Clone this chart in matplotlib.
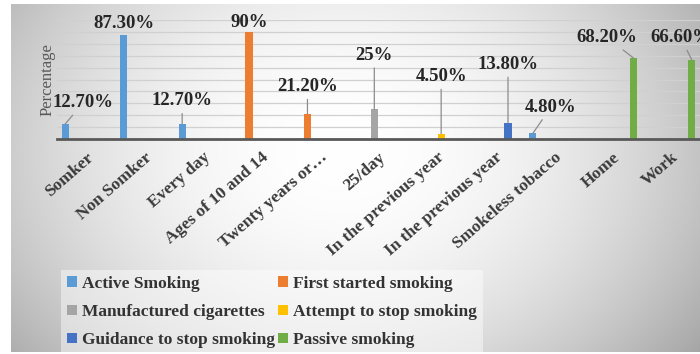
import numpy as np
import matplotlib
matplotlib.use("Agg")
import matplotlib.pyplot as plt
from matplotlib.transforms import ScaledTranslation

categories = ["Somker", "Non Somker", "Every day", "Ages of 10 and 14",
              "Twenty years or\u2026", "25/day", "In the previous year",
              "In the previous year", "Smokeless tobacco", "Home", "Work"]

series_names = ["Active Smoking", "First started smoking", "Manufactured cigarettes",
                "Attempt to stop smoking", "Guidance to stop smoking", "Passive smoking"]
series_colors = ["#5B9BD5", "#ED7D31", "#A5A5A5", "#FFC000", "#4472C4", "#70AD47"]

N = None
active_smoking   = [12.7, 87.3, 12.7, N, N, N, N, N, 4.8, N, N]
first_started    = [N, N, N, 90.0, 21.2, N, N, N, N, N, N]
manufactured     = [N, N, N, N, N, 25.0, N, N, N, N, N]
attempt_stop     = [N, N, N, N, N, N, 4.5, N, N, N, N]
guidance_stop    = [N, N, N, N, N, N, N, 13.8, N, N, N]
passive_smoking  = [N, N, N, N, N, N, N, N, N, 68.2, 66.6]
series_values = [active_smoking, first_started, manufactured,
                 attempt_stop, guidance_stop, passive_smoking]

value_labels = {12.7: "12.70%", 87.3: "87.30%", 4.8: "4.80%", 90.0: "90%",
                21.2: "21.20%", 25.0: "25%", 4.5: "4.50%", 13.8: "13.80%",
                68.2: "68.20%", 66.6: "66.60%"}

# label offsets (pixels) per category: (dx, dy, leader)
label_offsets = [(18, 21, True), (0, 12, False), (0, 23, True), (0, 9, False),
                 (0, 27, True), (0, 54, True), (0, 57, True), (0, 58, True),
                 (18, 26, True), (-26, 20, True), (-11, 22, True)]

W, H = 700, 354
fig = plt.figure(figsize=(W / 100, H / 100), dpi=100)
fig.patch.set_facecolor("white")

# background gradient panel
bg = fig.add_axes([11 / W, 2 / H, 689 / W, 348 / H], zorder=-10)
yy, xx = np.mgrid[0:1:300j, 0:1:600j]
d = np.sqrt(((xx - 0.48) / 0.52) ** 2 + ((yy - 0.42) / 0.8) ** 2)
g = 1 - 0.23 * np.clip(d, 0, 1.3) ** 2
img = np.dstack([g, g, g])
bg.imshow(np.clip(img, 0, 1), aspect="auto", extent=[0, 1, 0, 1], origin="upper")
bg.axis("off")

ax = fig.add_axes([57 / W, (H - 139) / H, 643 / W, 119 / H])
ax.set_facecolor("none")
ax.set_xlim(-0.5, 10.5)
ax.set_ylim(0, 100)

slot = 0.1436
bw = 0.12
handles = []
for s, (vals, col) in enumerate(zip(series_values, series_colors)):
    xs = [i + (s - 2.5) * slot for i, v in enumerate(vals) if v is not None]
    hs = [v for v in vals if v is not None]
    b = ax.bar(xs, hs, width=bw, color=col, zorder=3, label=series_names[s])
    handles.append(b)

# data labels
for s, vals in enumerate(series_values):
    for i, v in enumerate(vals):
        if v is None:
            continue
        dx, dy, leader = label_offsets[i]
        x = i + (s - 2.5) * slot
        kw = {}
        if leader:
            kw["arrowprops"] = dict(arrowstyle="-", color="#8c8c8c", lw=0.9,
                                    shrinkA=1, shrinkB=0)
        ax.annotate(value_labels[v], xy=(x, v), xytext=(dx, dy),
                    textcoords="offset pixels", ha="center", va="center",
                    fontsize=13.5, fontweight="bold", family="Liberation Serif",
                    color="#262626", annotation_clip=False, zorder=5, **kw)

ax.set_yticks(np.arange(10, 101, 10))
ax.yaxis.grid(True, color="#d0d0d0", lw=0.9, zorder=0)
ax.tick_params(axis="y", length=0, labelleft=False)
for sp in ["top", "right", "left"]:
    ax.spines[sp].set_visible(False)
ax.spines["bottom"].set_color("#595959")
ax.spines["bottom"].set_linewidth(2)
ax.spines["bottom"].set_zorder(4)

ax.set_xticks(range(len(categories)))
ax.set_xticklabels(categories, rotation=41, ha="right", va="top",
                   rotation_mode="anchor", fontsize=12.5, fontweight="bold",
                   family="Liberation Serif", color="#3a3a3a")
ax.tick_params(axis="x", length=0, pad=7.5)
for lab in ax.get_xticklabels():
    lab.set_transform(lab.get_transform() + ScaledTranslation(0, 0, fig.dpi_scale_trans))

ax.set_ylabel("Percentage", family="Liberation Serif", fontsize=12, color="#595959")
ax.yaxis.set_label_coords(-1 / 643, 0.5)

order = [0, 2, 4, 1, 3, 5]
leg = fig.legend([handles[k] for k in order], [series_names[k] for k in order],
                 loc="center", bbox_to_anchor=(272 / W, (H - 312) / H), ncol=2,
                 prop={"family": "Liberation Serif", "weight": "bold", "size": 12.5},
                 frameon=True, fancybox=False, handlelength=0.55, handleheight=0.55,
                 handletextpad=0.3, columnspacing=0.2, labelspacing=0.7,
                 borderpad=0.35)
leg.get_frame().set_facecolor("white")
leg.get_frame().set_alpha(0.45)
leg.get_frame().set_edgecolor("none")
for t in leg.get_texts():
    t.set_color("#333333")

fig.savefig("out.png", dpi=100)
